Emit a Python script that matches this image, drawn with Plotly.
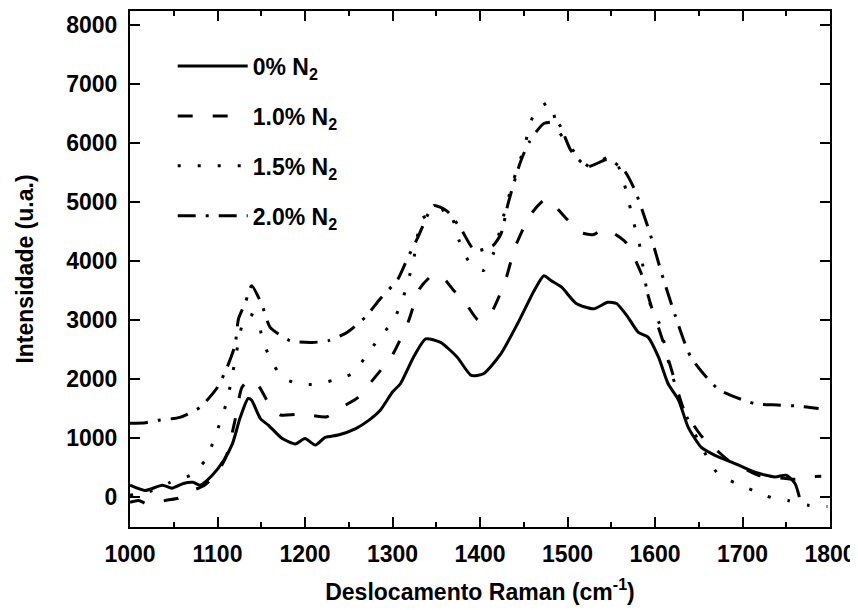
import plotly.graph_objects as go

# 0% N2 (solid)
x0 = [1000,1017,1037,1048,1061,1072,1080,1094,1107,1117,1126,1135,1139,1149,1158,1174,1189,1200,1212,1223,1238,1258,1272,1286,1300,1309,1324,1338,1355,1374,1390,1404,1424,1443,1462,1473,1481,1493,1510,1530,1546,1556,1569,1581,1592,1604,1615,1627,1638,1653,1668,1691,1714,1737,1750,1760,1765]
y0 = [200,110,200,150,230,250,200,370,620,900,1350,1670,1640,1330,1220,990,900,990,880,1010,1050,1160,1290,1470,1780,1920,2370,2680,2620,2370,2060,2090,2430,2940,3500,3750,3670,3560,3280,3190,3300,3280,3050,2790,2710,2370,1920,1640,1180,840,710,570,420,340,370,230,0]

# 1.0% N2 (dashed)
x1 = [1000,1010,1020,1043,1055,1070,1085,1100,1110,1120,1128,1138,1148,1160,1172,1190,1208,1225,1243,1260,1275,1300,1318,1331,1345,1356,1370,1383,1398,1412,1429,1440,1458,1475,1485,1500,1516,1530,1542,1555,1567,1584,1596,1608,1620,1632,1645,1655,1670,1684,1700,1718,1740,1760,1775,1790]
y1 = [-90,-60,-120,-50,-20,100,200,420,690,1300,1860,2000,1860,1550,1390,1400,1380,1360,1530,1680,1940,2410,2970,3530,3750,3740,3500,3300,3000,3110,3670,4230,4790,5050,4940,4700,4480,4450,4550,4450,4310,3800,3220,2690,2100,1520,1200,1000,800,620,500,370,330,300,340,350]

# 1.5% N2 (dotted)
x2 = [1000,1020,1046,1069,1086,1097,1111,1120,1128,1137,1146,1151,1160,1174,1192,1212,1232,1254,1269,1284,1301,1311,1318,1324,1334,1352,1364,1376,1387,1404,1416,1424,1437,1450,1462,1479,1490,1505,1525,1545,1555,1565,1576,1582,1593,1605,1616,1630,1640,1655,1672,1693,1714,1733,1752,1775,1797]
y2 = [30,80,250,370,620,1010,1640,2310,2900,3100,3000,2700,2350,2030,1920,1910,1980,2090,2370,2680,2990,3330,3670,4010,4720,4820,4890,4350,4000,3840,4150,4600,5310,5900,6500,6690,6200,5900,5600,5750,5700,5300,4630,4300,3330,2940,2260,1580,1240,800,390,230,100,-10,-60,-140,-160]

# 2.0% N2 (dash-dot)
x3 = [1000,1018,1032,1057,1080,1100,1111,1120,1124,1132,1139,1151,1160,1183,1208,1227,1248,1269,1286,1306,1317,1329,1347,1362,1378,1394,1414,1424,1432,1446,1456,1473,1489,1504,1523,1546,1565,1577,1594,1608,1623,1641,1673,1715,1740,1764,1787]
y3 = [1250,1260,1300,1350,1520,1860,2200,2570,3020,3300,3580,3250,2880,2650,2620,2650,2790,3050,3360,3690,4040,4400,4940,4850,4550,4180,4250,4460,4970,5670,6010,6330,6340,5870,5600,5720,5530,5200,4480,3770,3080,2370,1820,1580,1560,1540,1500]

names = ["0% N<sub>2</sub>", "1.0% N<sub>2</sub>", "1.5% N<sub>2</sub>", "2.0% N<sub>2</sub>"]
dashes = ["solid", "15px,20px", "3px,17px", "18px,10px,3px,10px"]
xs = [x0, x1, x2, x3]
ys = [y0, y1, y2, y3]

fig = go.Figure()
for i in range(4):
    fig.add_trace(go.Scatter(
        x=xs[i], y=ys[i], mode="lines", name=names[i],
        line=dict(color="black", width=3, dash=dashes[i], shape="spline", smoothing=0.6),
        legendgroup=str(i),
    ))

fam = "Liberation Sans, Arial, sans-serif"
font = dict(family=fam, size=23, color="black", weight="bold")

# page body has an 8px margin; size the figure so the plot area lands where the reference has it
fig.update_layout(
    width=850, height=602,
    margin=dict(l=122, r=28, t=3, b=83),
    paper_bgcolor="white", plot_bgcolor="white",
    font=font,
    showlegend=True,
    legend=dict(x=0.061, y=0.935, xanchor="left", yanchor="top",
                bgcolor="rgba(0,0,0,0)", tracegroupgap=17,
                font=dict(family=fam, size=23, weight="bold", color="black"),
                itemwidth=70),
)
fig.update_xaxes(
    range=[1000, 1800], tickmode="linear", tick0=1000, dtick=100,
    ticks="inside", ticklen=10, tickwidth=2, tickcolor="black",
    minor=dict(ticks="inside", ticklen=5, tickwidth=1.5, tickcolor="black", dtick=50),
    showline=True, linewidth=2, linecolor="black", mirror="ticks",
    showgrid=False, zeroline=False, automargin=False,
    tickfont=dict(size=23, weight="bold"),
    ticklabelstandoff=5,
    title=dict(text="Deslocamento Raman (cm<sup>-1</sup>)", font=dict(size=23, weight="bold"), standoff=18),
)
fig.update_yaxes(
    range=[-508, 8237], tickmode="linear", tick0=0, dtick=1000,
    ticks="inside", ticklen=10, tickwidth=2, tickcolor="black",
    showline=True, linewidth=2, linecolor="black", mirror="ticks",
    showgrid=False, zeroline=False, automargin=False,
    tickfont=dict(size=23, weight="bold"),
    ticklabelstandoff=6,
    title=dict(text="Intensidade (u.a.)", font=dict(size=23, weight="bold"), standoff=26),
)

fig.write_html("out.html")
